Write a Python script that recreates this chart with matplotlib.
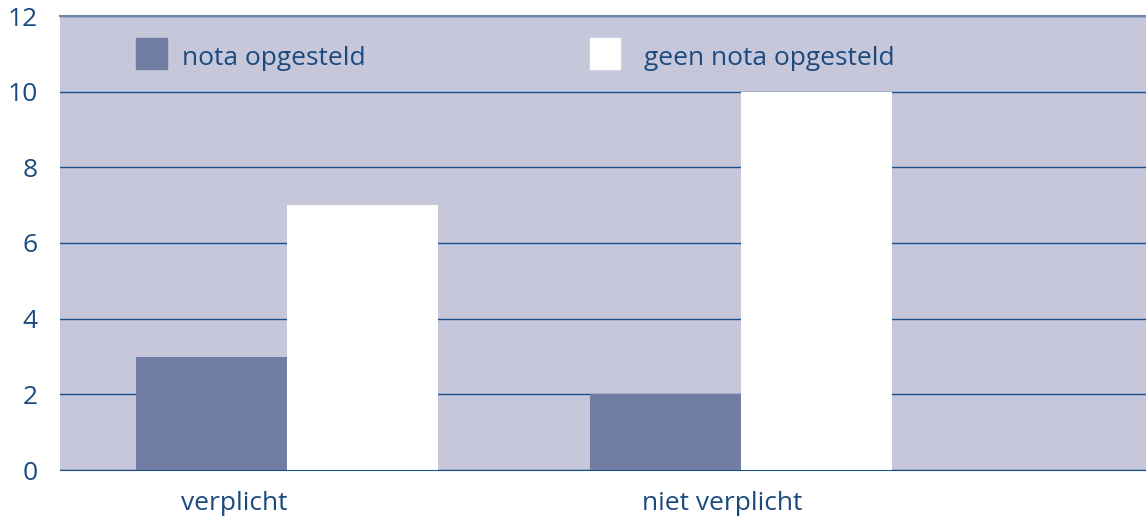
import matplotlib.pyplot as plt
import numpy as np
from matplotlib.patches import Rectangle

categories = ["verplicht", "niet verplicht"]
nota = [3, 2]
geen_nota = [7, 10]
series_labels = ["nota opgesteld", "geen nota opgesteld"]
yticks = [0, 2, 4, 6, 8, 10, 12]

dark = "#717ea3"
bg = "#c6c7da"
txt = "#1b4a7e"
grid = "#1d4f8a"

plt.rcParams["font.family"] = ["Open Sans", "DejaVu Sans"]

fig = plt.figure(figsize=(11.46, 5.18), dpi=100)
ax = fig.add_axes([60 / 1146, 48 / 518, 1 - 60 / 1146, 454 / 518])
ax.set_facecolor(bg)

x = np.arange(len(categories))
w = 0.333
ax.bar(x - w / 2, nota, width=w, color=dark, zorder=3)
ax.bar(x + w / 2, geen_nota, width=w, color="white", zorder=3)

ax.set_xlim(-0.501, 1.894)
ax.set_ylim(0, 12)
ax.set_yticks(yticks)
ax.set_yticklabels([str(v) for v in yticks], fontsize=19, color=txt)
ax.tick_params(axis="y", length=0, pad=16)
ax.set_xticks([-0.117, 0.96])
ax.set_xticklabels(categories, fontsize=19, color=txt)
ax.tick_params(axis="x", length=0, pad=15)

ax.yaxis.grid(True, color=grid, linewidth=1, zorder=1)
ax.set_axisbelow(True)
for s in ["left", "right"]:
    ax.spines[s].set_visible(False)
ax.spines["bottom"].set_color(grid)
ax.spines["top"].set_color("#6f88ab")
ax.spines["top"].set_linewidth(1.5)

# legend drawn inside the plot area
text_offsets = [0.1, 0.119]
for i, (lab, col) in enumerate(zip(series_labels, [dark, "white"])):
    x0 = x[i] - w
    ax.add_patch(Rectangle((x0, 10.6), 0.068, 0.82, color=col, zorder=4))
    ax.text(x0 + text_offsets[i], 10.88, lab, fontsize=19, color=txt,
            va="center", zorder=4)

fig.savefig("out.png", dpi=100)
